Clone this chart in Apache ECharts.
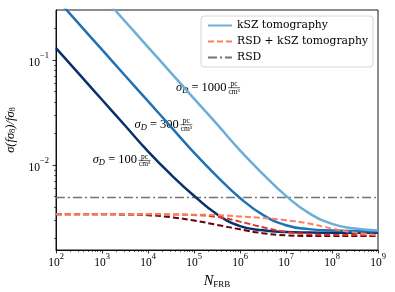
<!DOCTYPE html>
<html><head><meta charset="utf-8">
<script src="https://cdn.jsdelivr.net/npm/echarts@6/dist/echarts.min.js"></script>
<style>html,body{margin:0;padding:0;background:#fff}#c{width:395px;height:292px}</style>
</head><body><div id="c"></div>
<script>
// ---- data ----
const nFRB = [1e2, 3.16e2, 1e3, 3.16e3, 1e4, 3.16e4, 1e5, 3.16e5, 1e6, 3.16e6, 1e7, 3.16e7, 1e8, 3.16e8, 1e9];
const kszSigma100  = [0.130, 0.0738, 0.0419, 0.0238, 0.0135, 0.0081, 0.0051, 0.0034, 0.00262, 0.00239, 0.00230, 0.00227, 0.00226, 0.00226, 0.00226];
const kszSigma300  = [0.389, 0.221, 0.1256, 0.0713, 0.0406, 0.0231, 0.01315, 0.0078, 0.00485, 0.00335, 0.00267, 0.00245, 0.00238, 0.00235, 0.00234];
const kszSigma1000 = [1.27, 0.73, 0.412, 0.2345, 0.133, 0.0756, 0.043, 0.0245, 0.0138, 0.0082, 0.00508, 0.00348, 0.00275, 0.00248, 0.00238];
const rsdKszSigma100  = [0.00339, 0.00339, 0.00339, 0.00338, 0.00333, 0.00318, 0.00296, 0.00269, 0.00244, 0.00224, 0.00214, 0.00211, 0.00211, 0.00211, 0.00211];
const rsdKszSigma300  = [0.00339, 0.00339, 0.00339, 0.00339, 0.00339, 0.00338, 0.00334, 0.00320, 0.00289, 0.00255, 0.00231, 0.00220, 0.00216, 0.00215, 0.00214];
const rsdKszSigma1000 = [0.00339, 0.00339, 0.00339, 0.00339, 0.00339, 0.00338, 0.00336, 0.00333, 0.00324, 0.00312, 0.00298, 0.00277, 0.00248, 0.00227, 0.00215];
const rsdOnly = [0.0049, 0.0049, 0.0049, 0.0049, 0.0049, 0.0049, 0.0049, 0.0049, 0.0049, 0.0049, 0.0049, 0.0049, 0.0049, 0.0049, 0.0049];
const xTickExp = [2, 3, 4, 5, 6, 7, 8, 9];
const yTickExp = [-2, -1];
const xRange = [1e2, 1e9];
const yRange = [0.00155, 0.3];
const legendNames = ['kSZ tomography', 'RSD + kSZ tomography', 'RSD'];

// ---- helpers ----
const lg = Math.log10;
const toPts = arr => nFRB.map((n, i) => [lg(n), lg(arr[i])]);
function minorTicks(lo, hi) {
  const out = [];
  for (let d = Math.floor(lo); d <= Math.ceil(hi); d++) {
    for (let k = 2; k <= 9; k++) {
      const v = d + lg(k);
      if (v > lo + 1e-9 && v < hi - 1e-9) out.push(v);
    }
  }
  return out;
}
const xMin = lg(xRange[0]), xMax = lg(xRange[1]);
const yMin = lg(yRange[0]), yMax = lg(yRange[1]);
const serif = 'Liberation Serif';
const supRich = {
  b: {fontFamily: serif, fontSize: 11.5, color: '#000', lineHeight: 17, verticalAlign: 'bottom'},
  s: {fontFamily: serif, fontSize: 8.5, color: '#000', verticalAlign: 'top'}
};
const powFmt = v => '{b|10}{s|' + String(Math.round(v)).replace('-', '\u2212') + '}';

const chart = echarts.init(document.getElementById('c'), null, {renderer: 'canvas'});

function line(name, data, color, width, type, z) {
  return {
    name, type: 'line', data: toPts(data), xAxisIndex: 0, yAxisIndex: 0,
    showSymbol: false, symbol: 'none', symbolSize: 0, smooth: 0.5, z,
    lineStyle: {color, width, type}, itemStyle: {color}, clip: true, silent: true
  };
}

const option = {
  animation: false,
  backgroundColor: '#fff',
  grid: {left: 56, right: 17, top: 10, bottom: 42, containLabel: false, outerBoundsMode: 'none',
         show: true, borderColor: '#000', borderWidth: 0.9, backgroundColor: 'transparent'},
  legend: {
    data: legendNames, orient: 'vertical', left: 201, top: 16,
    itemWidth: 24, itemHeight: 11, itemGap: 5, padding: [4, 5, 4, 6],
    backgroundColor: 'rgba(255,255,255,0.85)', borderColor: '#d6d6d6', borderWidth: 1, borderRadius: 3,
    textStyle: {fontFamily: 'DejaVu Serif', fontSize: 10.8, color: '#000'},
    itemStyle: {opacity: 0, borderWidth: 0},
    selectedMode: false
  },
  xAxis: [{
    type: 'value', min: xMin, max: xMax, position: 'bottom',
    axisLine: {lineStyle: {color: '#000', width: 0.9}},
    axisTick: {customValues: xTickExp, length: 3.5, lineStyle: {color: '#000', width: 0.8}},
    axisLabel: {customValues: xTickExp, formatter: powFmt, rich: supRich, margin: 2, hideOverlap: false},
    splitLine: {show: false},
    name: '{n|N}{f|FRB}', nameLocation: 'middle', nameGap: 20,
    nameTextStyle: {rich: {
      n: {fontFamily: serif, fontStyle: 'italic', fontSize: 14.5, color: '#000', lineHeight: 16, verticalAlign: 'bottom'},
      f: {fontFamily: serif, fontSize: 9, color: '#000', verticalAlign: 'bottom', lineHeight: 14}
    }}
  }, {
    type: 'value', min: xMin, max: xMax, position: 'bottom',
    axisLine: {show: false},
    axisTick: {customValues: minorTicks(xMin, xMax), length: 2, lineStyle: {color: '#000', width: 0.6}},
    axisLabel: {show: false}, splitLine: {show: false}
  }],
  yAxis: [{
    type: 'value', min: yMin, max: yMax, position: 'left',
    axisLine: {show: true, lineStyle: {color: '#000', width: 0.9}},
    axisTick: {show: true, customValues: yTickExp, length: 3.5, lineStyle: {color: '#000', width: 0.8}},
    axisLabel: {customValues: yTickExp, formatter: powFmt, rich: supRich, margin: 7},
    splitLine: {show: false},
    name: '{i|\u03c3(f\u03c3}{s|8}{i|)/f\u03c3}{s|8}', nameLocation: 'middle', nameRotate: 90, nameGap: 37,
    nameTextStyle: {rich: {
      i: {fontFamily: serif, fontStyle: 'italic', fontSize: 12.5, color: '#000', lineHeight: 16, verticalAlign: 'bottom'},
      s: {fontFamily: serif, fontSize: 8.5, color: '#000', verticalAlign: 'bottom', lineHeight: 14}
    }}
  }, {
    type: 'value', min: yMin, max: yMax, position: 'left',
    axisLine: {show: false},
    axisTick: {show: true, customValues: minorTicks(yMin, yMax), length: 2, lineStyle: {color: '#000', width: 0.6}},
    axisLabel: {show: false}, splitLine: {show: false}
  }],
  series: [
    line('RSD', rsdOnly, '#737373', 1.6, [9, 3, 2, 3], 1),
    line('ksz100', kszSigma100, '#08306b', 2.5, 'solid', 2),
    line('ksz300', kszSigma300, '#2171b5', 2.5, 'solid', 2),
    line('kSZ tomography', kszSigma1000, '#6baed6', 2.5, 'solid', 2),
    line('rsd100', rsdKszSigma100, '#67000d', 2, [6, 3], 3),
    line('rsd300', rsdKszSigma300, '#dd3327', 2, [6, 3], 3),
    line('RSD + kSZ tomography', rsdKszSigma1000, '#fb7f5f', 2, [6, 3], 3)
  ]
};
chart.setOption(option);

// ---- sigma_D annotations (text only) ----
const annValues = ['1000', '300', '100'];
const annPos = [[176, 88], [134.5, 125], [92.7, 160.7]];
const graphics = [];
annValues.forEach((v, i) => {
  const [x, y] = annPos[i];
  const main = new echarts.graphic.Text({style: {
    text: '{i|\u03c3}{d|D}{r| = ' + v + '}', x: 0, y: 0, verticalAlign: 'middle',
    rich: {
      i: {fontFamily: serif, fontStyle: 'italic', fontSize: 12.5, color: '#000', lineHeight: 14, verticalAlign: 'top'},
      d: {fontFamily: serif, fontStyle: 'italic', fontSize: 8.5, color: '#000', lineHeight: 14, verticalAlign: 'bottom'},
      r: {fontFamily: serif, fontSize: 12.5, color: '#000', lineHeight: 14, verticalAlign: 'top'}
    }
  }});
  const w = main.getBoundingRect().width;
  const fx = w + 1.5, fw = 12;
  graphics.push({type: 'group', x, y, silent: true, children: [
    {type: 'text', x: 0, y: 0, style: main.style},
    {type: 'text', x: fx + fw / 2, y: -3.8, style: {text: 'pc', fontFamily: serif, fontSize: 7.5, fill: '#000', align: 'center', verticalAlign: 'middle'}},
    {type: 'line', shape: {x1: fx, y1: -0.3, x2: fx + fw, y2: -0.3}, style: {stroke: '#000', lineWidth: 0.6}},
    {type: 'text', x: fx + fw / 2, y: 3.8, style: {text: 'cm\u00b3', fontFamily: serif, fontSize: 7.5, fill: '#000', align: 'center', verticalAlign: 'middle'}}
  ]});
});
chart.setOption({graphic: graphics});
</script>
</body></html>
